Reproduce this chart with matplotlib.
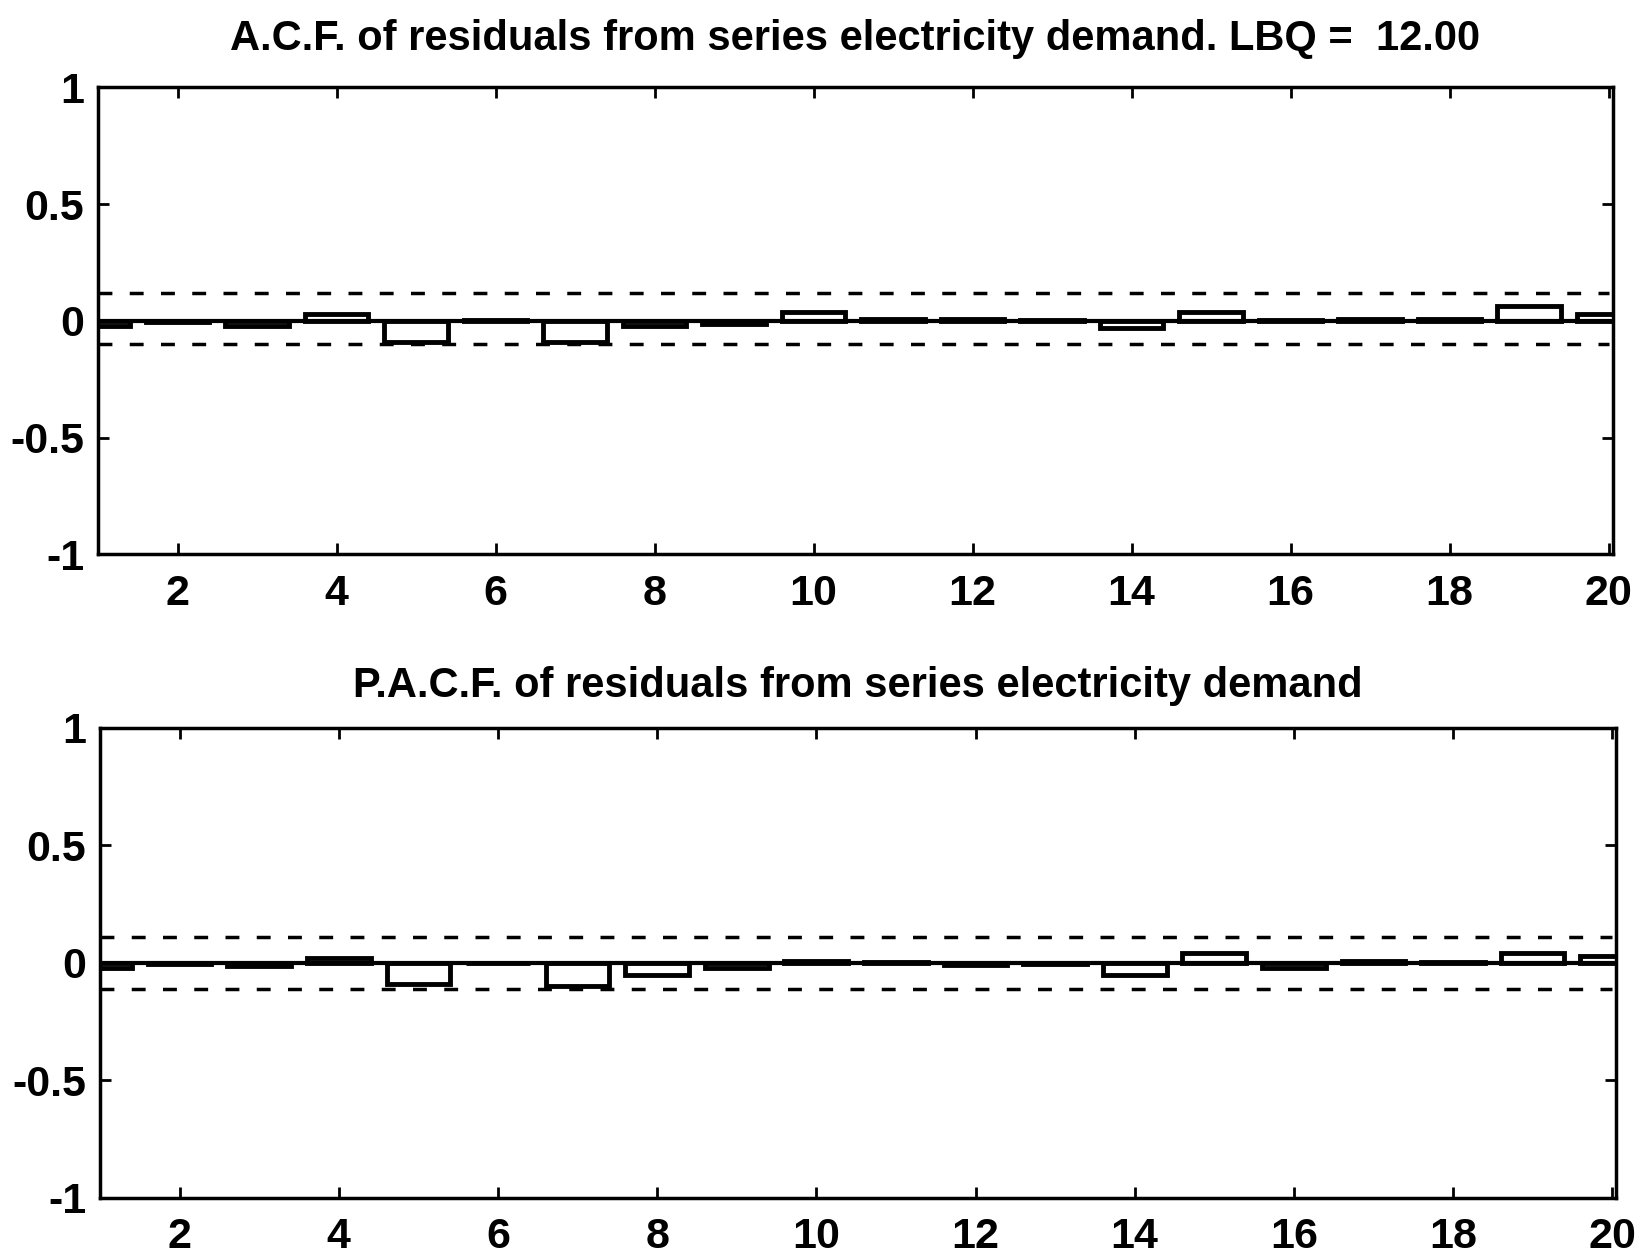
import numpy as np
import matplotlib
matplotlib.use("Agg")
import matplotlib.pyplot as plt

lags = np.arange(1, 21)
acf = [-0.02, -0.005, -0.02, 0.03, -0.09, 0.005, -0.09, -0.02, -0.015, 0.04,
       0.01, 0.01, 0.005, -0.03, 0.04, 0.005, 0.01, 0.01, 0.065, 0.03]
pacf = [-0.02, -0.005, -0.015, 0.02, -0.09, 0.0, -0.10, -0.05, -0.02, 0.01,
        0.005, -0.01, -0.005, -0.05, 0.04, -0.02, 0.01, 0.005, 0.04, 0.03]
acf_band = (0.12, -0.10)
pacf_band = (0.11, -0.11)
title_acf = "A.C.F. of residuals from series electricity demand. LBQ =  12.00"
title_pacf = "P.A.C.F. of residuals from series electricity demand"

plt.rcParams['font.family'] = ['Liberation Sans', 'DejaVu Sans']
plt.rcParams['font.weight'] = 'bold'

fig = plt.figure(figsize=(16.48, 12.57), dpi=100)
ax1 = fig.add_axes([0.0595, 0.559, 0.919, 0.3715])
ax2 = fig.add_axes([0.0607, 0.047, 0.920, 0.374])

for ax, vals, band, title, tpad in [(ax1, acf, acf_band, title_acf, 27),
                                    (ax2, pacf, pacf_band, title_pacf, 22)]:
    ax.bar(lags, vals, width=0.8, color="white", edgecolor="black", linewidth=3.5)
    ax.plot([1, 20], [0, 0], color="black", linewidth=3)
    ax.plot([1, 20], [band[0], band[0]], color="black", linestyle=(0, (4, 5)), linewidth=2.5)
    ax.plot([1, 20], [band[1], band[1]], color="black", linestyle=(0, (4, 5)), linewidth=2.5)
    ax.set_xlim(1, 20.05)
    ax.set_ylim(-1, 1)
    ax.set_xticks(np.arange(2, 21, 2))
    ax.set_yticks([-1, -0.5, 0, 0.5, 1])
    ax.set_yticklabels(["-1", "-0.5", "0", "0.5", "1"])
    ax.tick_params(direction="in", length=8, width=2, labelsize=31, top=True, right=True, pad=10)
    ax.tick_params(axis="x", pad=14)
    for s in ax.spines.values():
        s.set_linewidth(2.5)
    ax.set_title(title, fontsize=30, fontweight="bold", pad=tpad)

fig.savefig("out.png", dpi=100)
